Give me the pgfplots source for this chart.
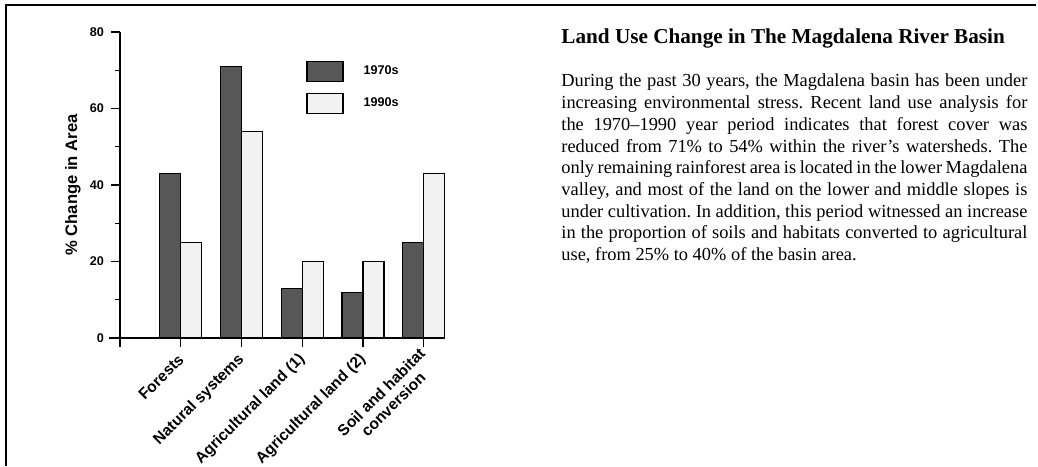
\documentclass[border=0pt]{standalone}
\usepackage{fontspec}
\setmainfont{Liberation Serif}
\setsansfont{Liberation Sans}
\usepackage{pgfplots}
\pgfplotsset{compat=1.18}

\definecolor{darkbar}{gray}{0.34}
\definecolor{lightbar}{gray}{0.95}

\begin{document}
\begin{tikzpicture}
\path[use as bounding box] (0,0) rectangle (519pt,233pt);
% frame (top and left only, as in the scan)
\draw[line width=0.9pt] (3pt,0) -- (3pt,230.5pt) -- (518pt,230.5pt);

\begin{axis}[
    at={(60pt,64pt)}, anchor=south west,
    scale only axis, width=162.5pt, height=153pt,
    xmin=0, xmax=5.35, ymin=0, ymax=80,
    axis lines*=left,
    axis line style={line width=0.6pt},
    clip=false,
    ybar=0pt, bar width=10.5pt,
    xtick={1,2,3,4},
    xticklabels={Forests, Natural systems, Agricultural land (1), Agricultural land (2)},
    extra x ticks={5},
    extra x tick labels={{Soil and habitat\\conversion}},
    extra x tick style={xticklabel style={shift={(1.5pt,-1.5pt)}}},
    ytick={0,20,40,60,80},
    minor ytick={10,30,50,70},
    tick align=outside,
    major tick length=4.5pt, minor tick length=2.5pt,
    tick style={line width=0.6pt, black},
    /pgf/number format/assume math mode=true,
    yticklabel style={font=\sffamily\bfseries\fontsize{6.3}{7}\selectfont},
    xticklabel style={font=\sffamily\bfseries\fontsize{7.8}{8.6}\selectfont,
        shift={(2.6pt,-2.6pt)}, rotate=45, anchor=east, align=center},
    ylabel={\% Change in Area},
    every axis y label/.style={at={(axis description cs:-0.145,0.5)}, rotate=90, anchor=center,
        font=\sffamily\bfseries\fontsize{8.3}{9}\selectfont},
    legend style={at={(axis description cs:0.572,0.908)}, anchor=north west, draw=none, fill=none,
        inner sep=0pt, row sep=5.5pt, column sep=10pt, nodes={inner sep=0pt},
        font=\sffamily\bfseries\fontsize{6.3}{7}\selectfont},
    legend cell align={left},
    legend image code/.code={\draw[#1] (0pt,-5pt) rectangle (18pt,5pt);},
]
\addplot[fill=darkbar, draw=black, line width=0.6pt] coordinates {
    (1,43) (2,71) (3,13) (4,12) (5,25)
};
\addplot[fill=lightbar, draw=black, line width=0.6pt] coordinates {
    (1,25) (2,54) (3,20) (4,20) (5,43)
};
\legend{1970s, 1990s}
% axis stubs past the origin
\draw[line width=0.6pt] (axis cs:-0.18,0) -- (axis cs:0,0) -- (axis cs:0,-2.35);
\end{axis}

\node[anchor=base west, inner sep=0pt, font=\bfseries\fontsize{10.6}{12}\selectfont]
    at (280.5pt,211pt) {Land Use Change in The Magdalena River Basin};
\node[anchor=base west, inner sep=0pt, text width=233pt, align=justify,
      font=\fontsize{9.2}{10.85}\selectfont] at (280.5pt,189.5pt)
{\frenchspacing\hyphenpenalty=10000 \exhyphenpenalty=10000 \tolerance=9999
\spaceskip=0.25em plus 0.6em minus 0.14em
During the past 30 years, the Magdalena basin has been under\linebreak
increasing environmental stress. Recent land use analysis for\linebreak
the 1970--1990 year period indicates that forest cover was\linebreak
reduced from 71\% to 54\% within the river's watersheds. The\linebreak
only remaining rainforest area is located in the lower Magdalena\linebreak
valley, and most of the land on the lower and middle slopes is\linebreak
under cultivation. In addition, this period witnessed an increase\linebreak
in the proportion of soils and habitats converted to agricultural\linebreak
use, from 25\% to 40\% of the basin area.\par};
\end{tikzpicture}
\end{document}
